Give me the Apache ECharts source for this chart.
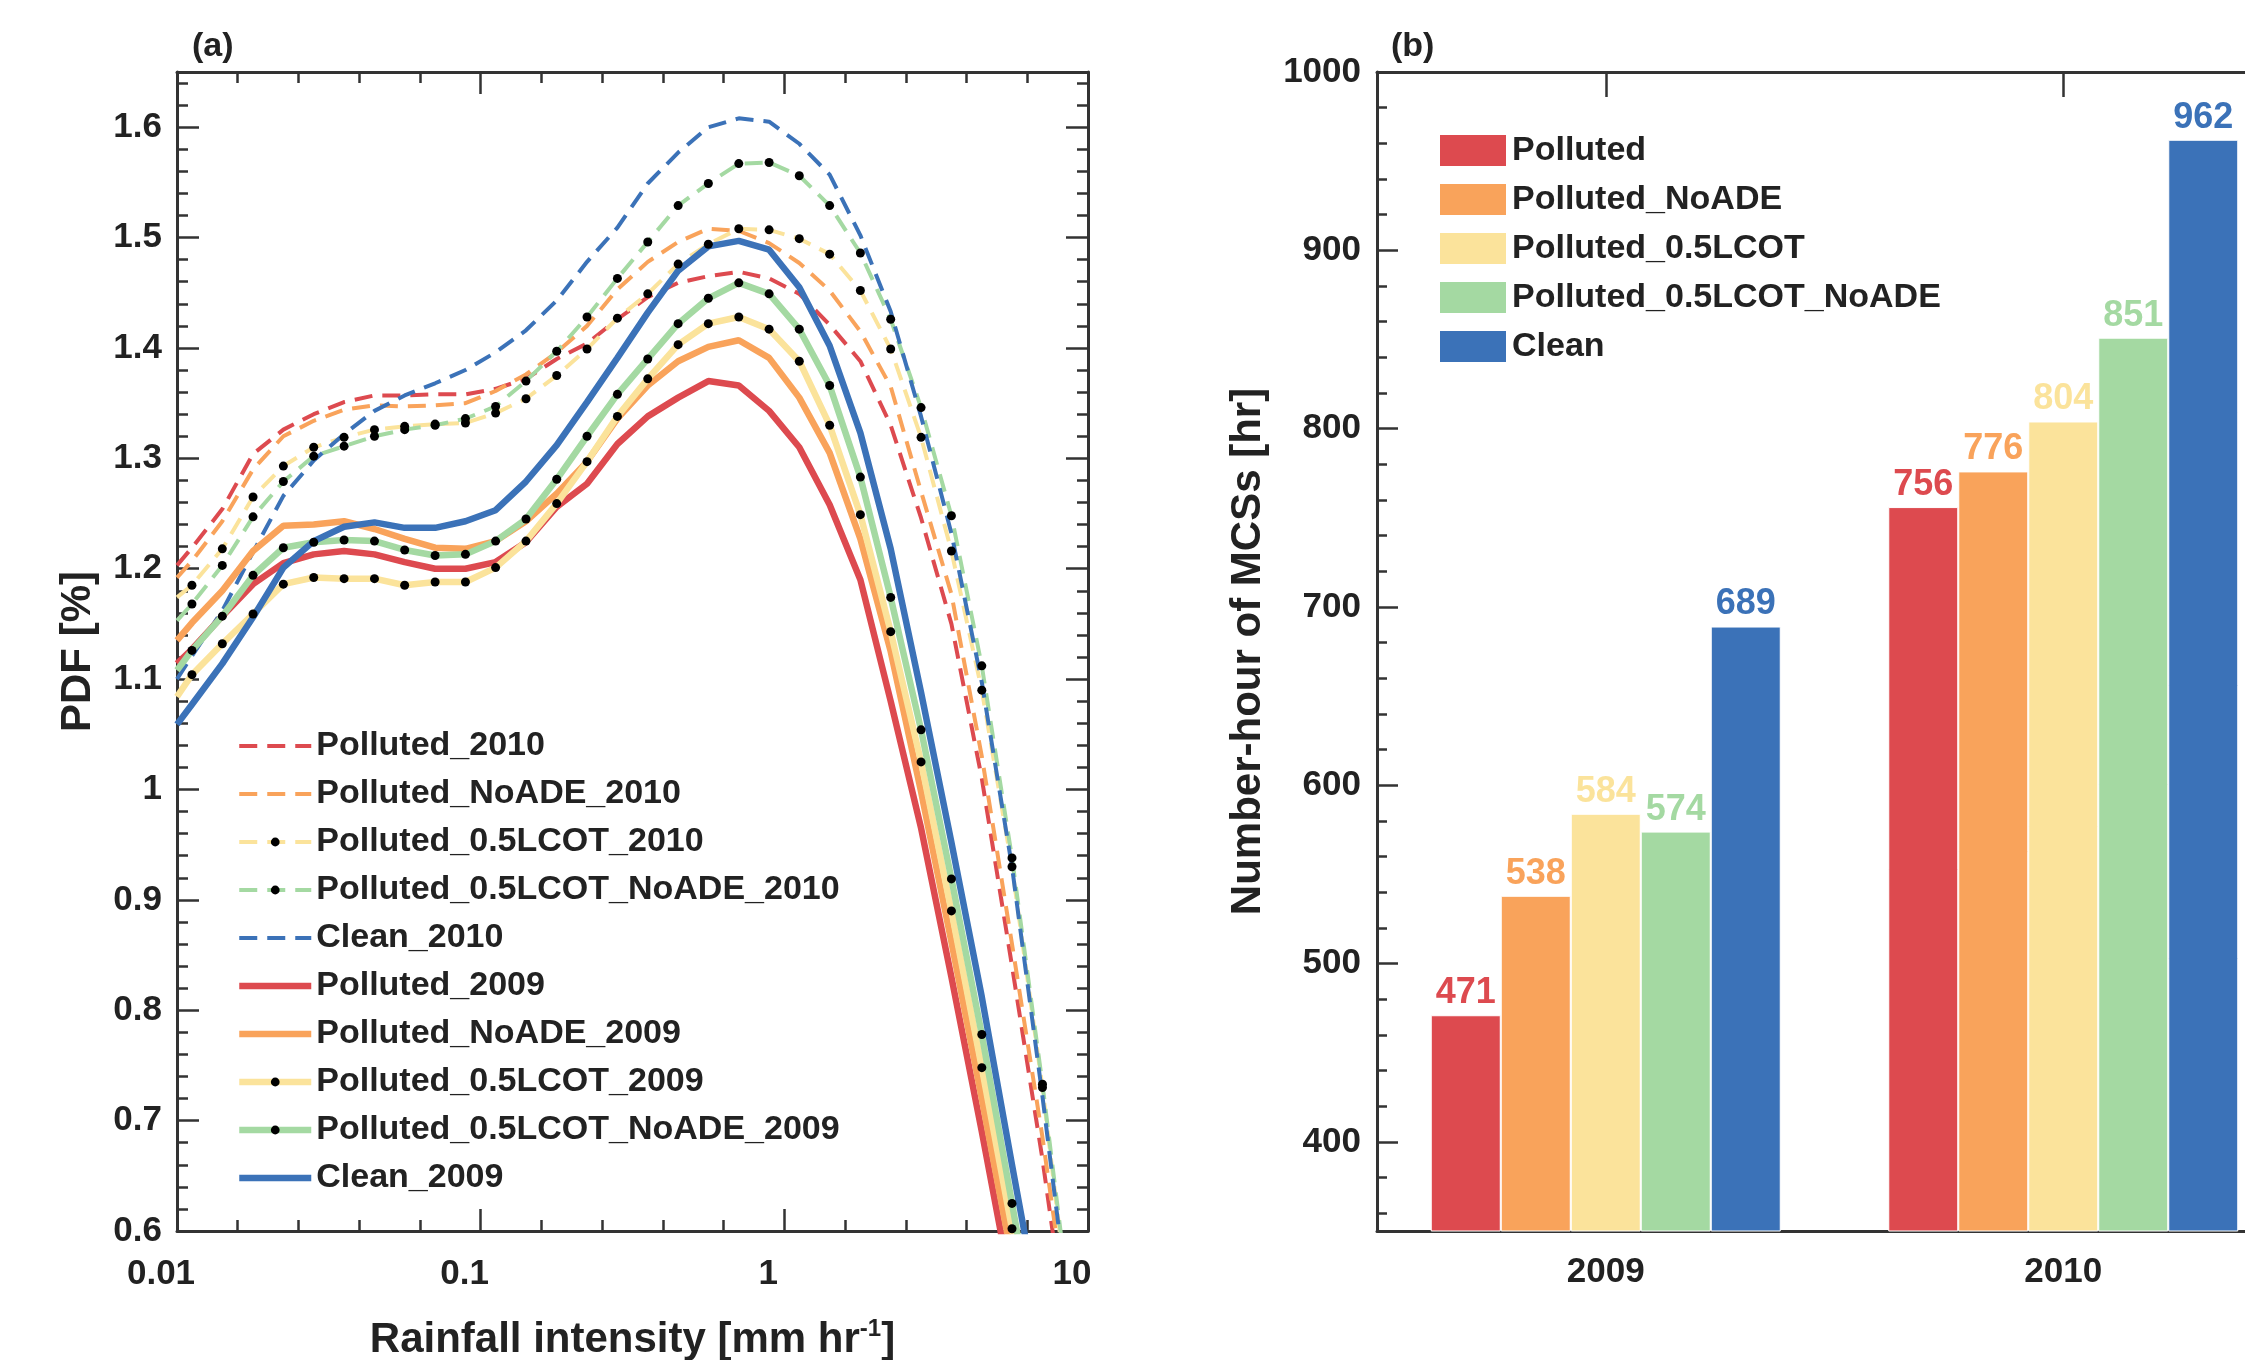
<!DOCTYPE html>
<html><head><meta charset="utf-8">
<script src="https://cdn.jsdelivr.net/npm/echarts@6/dist/echarts.min.js"></script>
<style>html,body{margin:0;padding:0;background:#fff}#c{width:2245px;height:1360px}</style>
</head><body><div id="c"></div>
<script>
// ---------- Panel (a): PDF of rainfall intensity ----------
const rainX = [0.01, 0.0112, 0.0141, 0.0178, 0.0224, 0.0282, 0.0355, 0.0447, 0.0562, 0.0708, 0.0891,
  0.112, 0.141, 0.178, 0.224, 0.282, 0.355, 0.447, 0.562, 0.708, 0.891,
  1.12, 1.41, 1.78, 2.24, 2.82, 3.55, 4.47, 5.62, 7.08, 8.91];

const polluted2010 = [1.203, 1.219, 1.254, 1.304, 1.326, 1.340, 1.351, 1.357, 1.357, 1.358, 1.358, 1.363, 1.372, 1.390, 1.404, 1.426, 1.446, 1.459, 1.465, 1.469, 1.463, 1.449, 1.421, 1.388, 1.330, 1.246, 1.150, 1.010, 0.840, 0.665, 0.470];
const noade2010     = [1.192, 1.207, 1.243, 1.290, 1.320, 1.334, 1.344, 1.348, 1.347, 1.348, 1.350, 1.361, 1.376, 1.396, 1.420, 1.453, 1.478, 1.496, 1.508, 1.506, 1.495, 1.477, 1.452, 1.415, 1.365, 1.270, 1.177, 1.030, 0.860, 0.685, 0.490];
const lcot2010      = [1.174, 1.185, 1.218, 1.265, 1.293, 1.310, 1.319, 1.326, 1.329, 1.331, 1.332, 1.341, 1.354, 1.375, 1.399, 1.427, 1.449, 1.476, 1.494, 1.508, 1.507, 1.499, 1.485, 1.452, 1.399, 1.319, 1.216, 1.090, 0.930, 0.730, 0.500];
const lcotNoade2010 = [1.153, 1.168, 1.203, 1.247, 1.279, 1.302, 1.311, 1.320, 1.326, 1.330, 1.336, 1.347, 1.370, 1.397, 1.428, 1.463, 1.496, 1.529, 1.549, 1.567, 1.568, 1.556, 1.529, 1.486, 1.426, 1.346, 1.248, 1.112, 0.938, 0.733, 0.510];
const clean2010     = [1.100, 1.121, 1.162, 1.215, 1.266, 1.298, 1.322, 1.343, 1.357, 1.368, 1.380, 1.396, 1.416, 1.443, 1.478, 1.509, 1.549, 1.577, 1.600, 1.608, 1.605, 1.585, 1.557, 1.502, 1.433, 1.338, 1.232, 1.097, 0.930, 0.722, 0.500];
const polluted2009  = [1.114, 1.127, 1.157, 1.186, 1.205, 1.213, 1.216, 1.213, 1.206, 1.200, 1.200, 1.206, 1.224, 1.256, 1.277, 1.313, 1.338, 1.355, 1.370, 1.366, 1.343, 1.310, 1.258, 1.190, 1.080, 0.965, 0.830, 0.690, 0.545, 0.400, 0.260];
const noade2009     = [1.135, 1.151, 1.180, 1.216, 1.239, 1.240, 1.243, 1.236, 1.227, 1.219, 1.218, 1.225, 1.243, 1.268, 1.297, 1.336, 1.366, 1.388, 1.401, 1.407, 1.391, 1.355, 1.305, 1.227, 1.125, 0.998, 0.862, 0.720, 0.575, 0.430, 0.290];
const lcot2009      = [1.084, 1.104, 1.132, 1.159, 1.186, 1.192, 1.191, 1.191, 1.185, 1.188, 1.188, 1.201, 1.225, 1.259, 1.297, 1.338, 1.372, 1.403, 1.422, 1.428, 1.417, 1.388, 1.330, 1.249, 1.143, 1.025, 0.890, 0.748, 0.602, 0.450, 0.300];
const lcotNoade2009 = [1.108, 1.126, 1.157, 1.194, 1.219, 1.224, 1.226, 1.225, 1.217, 1.212, 1.213, 1.225, 1.245, 1.281, 1.320, 1.358, 1.390, 1.422, 1.445, 1.459, 1.449, 1.417, 1.366, 1.283, 1.174, 1.054, 0.919, 0.778, 0.625, 0.470, 0.320];
const clean2009     = [1.059, 1.077, 1.114, 1.156, 1.201, 1.225, 1.238, 1.242, 1.237, 1.237, 1.243, 1.253, 1.279, 1.312, 1.351, 1.391, 1.432, 1.470, 1.492, 1.497, 1.489, 1.455, 1.402, 1.323, 1.218, 1.088, 0.952, 0.812, 0.660, 0.510, 0.360];

// ---------- Panel (b): number-hour of MCSs ----------
const years = ['2009', '2010'];
const barPolluted      = [471, 756];
const barNoADE         = [538, 776];
const barLCOT          = [584, 804];
const barLCOTNoADE     = [574, 851];
const barClean         = [689, 962];
const barMajorTicks = [400, 500, 600, 700, 800, 900, 1000];
const barMinorTicks = [360, 380, 420, 440, 460, 480, 520, 540, 560, 580, 620, 640, 660, 680,
  720, 740, 760, 780, 820, 840, 860, 880, 920, 940, 960, 980];

const C = {red:'#dd4a4f', orange:'#f9a35b', yellow:'#fbe39b', green:'#a4d9a2', blue:'#3b72b8'};
const FONT = 'Liberation Sans, Arial, Helvetica, sans-serif';
const TXT = '#222';
const AX = '#333';
const DASH = [18, 10];
const W_DASH = 4, W_SOLID = 6.5;

const lineDefs = [
  {name:'Polluted_2010', vals:polluted2010, color:C.red, dashed:true, dots:false},
  {name:'Polluted_NoADE_2010', vals:noade2010, color:C.orange, dashed:true, dots:false},
  {name:'Polluted_0.5LCOT_2010', vals:lcot2010, color:C.yellow, dashed:true, dots:true},
  {name:'Polluted_0.5LCOT_NoADE_2010', vals:lcotNoade2010, color:C.green, dashed:true, dots:true},
  {name:'Clean_2010', vals:clean2010, color:C.blue, dashed:true, dots:false},
  {name:'Polluted_2009', vals:polluted2009, color:C.red, dashed:false, dots:false},
  {name:'Polluted_NoADE_2009', vals:noade2009, color:C.orange, dashed:false, dots:false},
  {name:'Polluted_0.5LCOT_2009', vals:lcot2009, color:C.yellow, dashed:false, dots:true},
  {name:'Polluted_0.5LCOT_NoADE_2009', vals:lcotNoade2009, color:C.green, dashed:false, dots:true},
  {name:'Clean_2009', vals:clean2009, color:C.blue, dashed:false, dots:false}
];
const barDefs = [
  {name:'Polluted', vals:barPolluted, color:C.red},
  {name:'Polluted_NoADE', vals:barNoADE, color:C.orange},
  {name:'Polluted_0.5LCOT', vals:barLCOT, color:C.yellow},
  {name:'Polluted_0.5LCOT_NoADE', vals:barLCOTNoADE, color:C.green},
  {name:'Clean', vals:barClean, color:C.blue}
];

const lineSeries = lineDefs.map(d => ({
  type:'line', name:d.name, xAxisIndex:0, yAxisIndex:0,
  data: rainX.map((x, i) => [x, d.vals[i]]),
  symbol: d.dots ? 'circle' : 'none',
  showSymbol: d.dots, showAllSymbol: true,
  symbolSize: d.dots ? ((v, p) => p.dataIndex === 0 ? 0 : 9) : 0,
  itemStyle: {color: d.dots ? '#000' : 'rgba(0,0,0,0)'},
  lineStyle: {color:d.color, width: d.dashed ? W_DASH : W_SOLID, type: d.dashed ? DASH : 'solid'},
  clip:true, silent:true, animation:false
}));
const barSeries = barDefs.map(d => ({
  type:'bar', name:d.name, xAxisIndex:4, yAxisIndex:4, data:d.vals,
  barWidth:70, barGap:'0%',
  itemStyle:{color:d.color, borderColor:'#fff', borderWidth:1},
  label:{show:true, position:'top', distance:4, color:d.color, fontSize:36, fontWeight:'bold', fontFamily:FONT},
  silent:true, animation:false
}));

const tickStyle = {color:AX, width:2.5};
const lineAx = {show:true, onZero:false, lineStyle:{color:AX, width:3}};
const noLine = {show:false, onZero:false};
const labelStyle = {color:TXT, fontSize:35, fontWeight:'bold', fontFamily:FONT};

const option = {
  backgroundColor:'#fff',
  animation:false,
  graphic:[
    {type:'text', left:192, top:30, style:{text:'(a)', font:'bold 34px Liberation Sans', fill:TXT}},
    {type:'text', left:1391, top:30, style:{text:'(b)', font:'bold 34px Liberation Sans', fill:TXT}}
  ],
  grid:[
    {left:177, top:72, width:911, height:1159, containLabel:false, outerBoundsMode:'none'},
    {left:1377, top:72, width:915, height:1159, containLabel:false, outerBoundsMode:'none'}
  ],
  legend:[
    {data: lineDefs.map(d => ({name:d.name,
        lineStyle:{color:d.color, width: d.dashed ? W_DASH : W_SOLID, type: d.dashed ? DASH : 'solid'}})),
     orient:'vertical', left:231, top:724,
     itemWidth:72, itemHeight:11, itemGap:14, selectedMode:false,
     textStyle:{color:TXT, fontSize:34, fontWeight:'bold', fontFamily:FONT}},
    {data: barDefs.map(d => d.name), orient:'vertical', left:1433, top:128, icon:'rect',
     itemWidth:68, itemHeight:33, itemGap:14, selectedMode:false,
     textStyle:{color:TXT, fontSize:34, fontWeight:'bold', fontFamily:FONT}}
  ],
  xAxis:[
    {gridIndex:0, type:'log', position:'bottom', min:0.01, max:10, logBase:10,
     axisLine:lineAx, axisTick:{show:true, inside:true, length:22, lineStyle:tickStyle},
     axisLabel:Object.assign({margin:26, padding:[0,32,0,0]}, labelStyle),
     splitLine:{show:false}, minorTick:{show:false}, minorSplitLine:{show:false},
     name:'{a|Rainfall intensity [mm hr}{s|-1}{a|]}', nameLocation:'middle', nameGap:86,
     nameTextStyle:{rich:{
       a:{fontSize:42, fontWeight:'bold', fontFamily:FONT, color:TXT, lineHeight:46},
       s:{fontSize:24, fontWeight:'bold', fontFamily:FONT, color:TXT, verticalAlign:'top', lineHeight:24}}}},
    {gridIndex:0, type:'log', position:'top', min:0.01, max:10, logBase:10,
     axisLine:lineAx, axisTick:{show:true, inside:true, length:22, lineStyle:tickStyle},
     axisLabel:{show:false}, splitLine:{show:false}},
    {gridIndex:0, type:'value', position:'bottom', min:-2, max:1, interval:0.2,
     axisLine:noLine, axisTick:{show:true, inside:true, length:11, lineStyle:tickStyle},
     axisLabel:{show:false}, splitLine:{show:false}},
    {gridIndex:0, type:'value', position:'top', min:-2, max:1, interval:0.2,
     axisLine:noLine, axisTick:{show:true, inside:true, length:11, lineStyle:tickStyle},
     axisLabel:{show:false}, splitLine:{show:false}},
    {gridIndex:1, type:'category', position:'bottom', data:years, boundaryGap:true,
     axisLine:lineAx, axisTick:{show:true, inside:true, length:25, alignWithLabel:true, lineStyle:tickStyle},
     axisLabel:Object.assign({margin:24}, labelStyle), splitLine:{show:false}},
    {gridIndex:1, type:'category', position:'top', data:years, boundaryGap:true,
     axisLine:lineAx, axisTick:{show:true, inside:true, length:25, alignWithLabel:true, lineStyle:tickStyle},
     axisLabel:{show:false}, splitLine:{show:false}}
  ],
  yAxis:[
    {gridIndex:0, type:'value', position:'left', min:0.6, max:1.65, interval:0.1,
     axisLine:lineAx, axisTick:{show:true, inside:true, length:22, lineStyle:tickStyle},
     axisLabel:Object.assign({margin:15, showMaxLabel:false}, labelStyle), splitLine:{show:false},
     name:'PDF [%]', nameLocation:'middle', nameGap:78,
     nameTextStyle:{fontSize:42, fontWeight:'bold', fontFamily:FONT, color:TXT}},
    {gridIndex:0, type:'value', position:'right', min:0.6, max:1.65, interval:0.1,
     axisLine:lineAx, axisTick:{show:true, inside:true, length:22, lineStyle:tickStyle},
     axisLabel:{show:false}, splitLine:{show:false}},
    {gridIndex:0, type:'value', position:'left', min:0.6, max:1.65, interval:0.02,
     axisLine:noLine, axisTick:{show:true, inside:true, length:11, lineStyle:tickStyle},
     axisLabel:{show:false}, splitLine:{show:false}},
    {gridIndex:0, type:'value', position:'right', min:0.6, max:1.65, interval:0.02,
     axisLine:noLine, axisTick:{show:true, inside:true, length:11, lineStyle:tickStyle},
     axisLabel:{show:false}, splitLine:{show:false}},
    {gridIndex:1, type:'value', position:'left', min:350, max:1000,
     axisLine:lineAx,
     axisTick:{show:true, inside:true, length:21, lineStyle:tickStyle, customValues:barMajorTicks},
     axisLabel:Object.assign({margin:16, customValues:barMajorTicks, formatter: v => String(v)}, labelStyle),
     splitLine:{show:false},
     name:'Number-hour of MCSs [hr]', nameLocation:'middle', nameGap:108,
     nameTextStyle:{fontSize:42, fontWeight:'bold', fontFamily:FONT, color:TXT}},
    {gridIndex:1, type:'value', position:'left', min:350, max:1000,
     axisLine:noLine,
     axisTick:{show:true, inside:true, length:10, lineStyle:tickStyle, customValues:barMinorTicks},
     axisLabel:{show:false}, splitLine:{show:false}}
  ],
  series: lineSeries.concat(barSeries)
};

const chart = echarts.init(document.getElementById('c'), null, {renderer:'canvas', width:2245, height:1360});
chart.setOption(option);
</script>
</body></html>
